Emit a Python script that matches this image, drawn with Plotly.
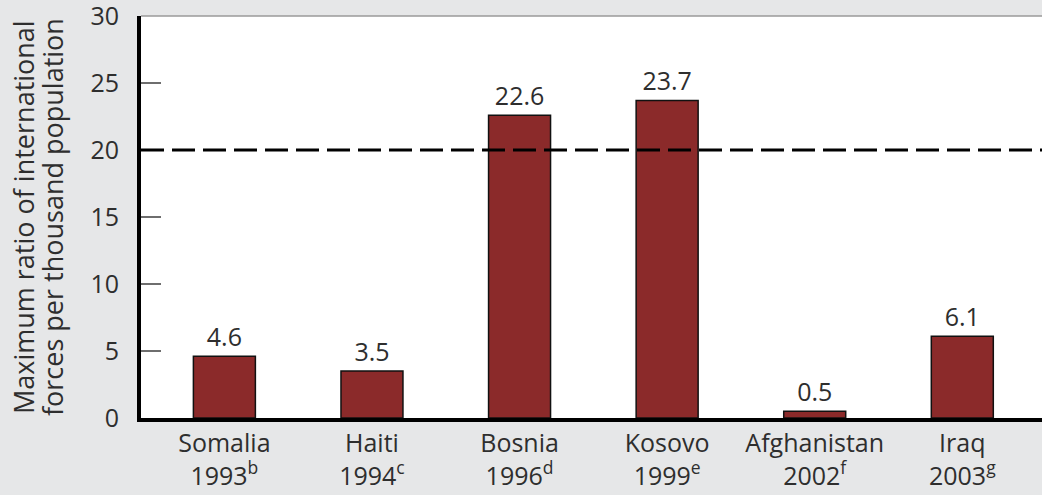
import plotly.graph_objects as go

countries = ["Somalia", "Haiti", "Bosnia", "Kosovo", "Afghanistan", "Iraq"]
years = ["1993", "1994", "1996", "1999", "2002", "2003"]
notes = ["b", "c", "d", "e", "f", "g"]
ratios = [4.6, 3.5, 22.6, 23.7, 0.5, 6.1]
threshold = 20
y_ticks = [0, 5, 10, 15, 20, 25, 30]
y_title_lines = ["Maximum ratio of international", "forces per thousand population"]

labels = [f"{c}<br>{y}<sup>{n}</sup>" for c, y, n in zip(countries, years, notes)]
xs = list(range(len(countries)))

FONT = "Open Sans"
TXT = "#2e2e2e"
FS = 25

fig = go.Figure()
fig.add_trace(go.Bar(
    x=xs, y=ratios, width=0.42,
    marker=dict(color="#8b2a2a", line=dict(color="#111111", width=1.5)),
    text=[f"{v:.1f}" for v in ratios], textposition="outside",
    textfont=dict(size=FS, color=TXT, family=FONT), cliponaxis=False,
))
fig.add_shape(type="line", xref="paper", yref="y", x0=0, x1=1, y0=threshold, y1=threshold,
              line=dict(color="black", width=3, dash="23px,8px"), layer="above")
fig.add_shape(type="line", xref="paper", yref="paper", x0=0, x1=1, y0=1, y1=1,
              line=dict(color="#9a9a9a", width=1.5), layer="above")

for line, shift in zip(y_title_lines, [-118, -89]):
    fig.add_annotation(text=line, xref="paper", yref="paper", x=0, y=0.5,
                       xanchor="center", yanchor="middle", xshift=shift,
                       textangle=-90, showarrow=False,
                       font=dict(size=27, color=TXT, family=FONT))

fig.update_layout(
    width=1042, height=495,
    margin=dict(l=141, r=0, t=16, b=77),
    paper_bgcolor="#e6e7e8", plot_bgcolor="white",
    showlegend=False, bargap=0.5,
    font=dict(family=FONT, size=FS, color=TXT),
    xaxis=dict(range=[-0.565, 5.54], tickvals=xs, ticktext=labels, showgrid=False,
               zeroline=False, showline=True, linecolor="black", linewidth=4,
               ticks="", automargin=False, ticklabeloverflow="allow",
               tickfont=dict(size=FS, color=TXT)),
    yaxis=dict(range=[0, 30], tickvals=y_ticks, showgrid=False, zeroline=False,
               showline=True, linecolor="black", linewidth=4,
               ticks="inside", ticklen=20, tickwidth=2, tickcolor="#6e6e6e",
               ticklabelstandoff=13, automargin=False, ticklabeloverflow="allow",
               tickfont=dict(size=FS, color=TXT)),
)
fig.write_html("out.html", config={"displayModeBar": False},
               post_script="document.body.style.margin='0';")
